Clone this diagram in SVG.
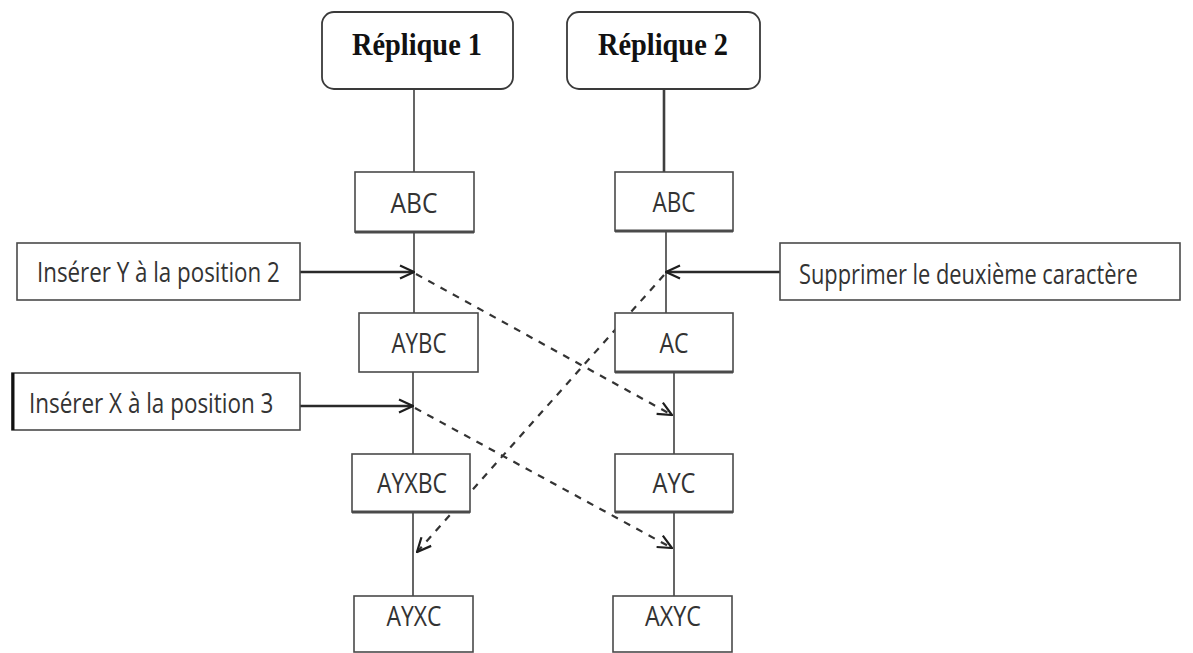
<svg xmlns="http://www.w3.org/2000/svg" width="1193" height="653" viewBox="0 0 1193 653">
  <style>
    .bg { fill: #ffffff; }
    .state rect { fill: #ffffff; stroke: #4a4a4a; stroke-width: 1.6; }
    .state .base { stroke: #4a4a4a; stroke-width: 3; }
    .state text { font-family: "Open Sans", "Liberation Sans", sans-serif; font-size: 27px; fill: #333333; text-anchor: middle; }
    .replica rect { fill: #ffffff; stroke: #3a3a3a; stroke-width: 1.8; }
    .replica text { font-family: "Liberation Serif", "DejaVu Serif", serif; font-weight: bold; font-size: 31px; fill: #111111; text-anchor: middle; }
    .op rect { fill: #ffffff; stroke: #4a4a4a; stroke-width: 1.6; }
    .op text { font-family: "Open Sans", "Liberation Sans", sans-serif; font-size: 27px; fill: #333333; }
    .link { stroke: #3f3f3f; stroke-width: 1.6; fill: none; }
    .apply { stroke: #2a2a2a; stroke-width: 2.4; fill: none; }
    .sync { stroke: #333333; stroke-width: 2.2; fill: none; stroke-dasharray: 7 7; }
  </style>
  <defs>
    <marker id="open-arrow" viewBox="0 0 16 16" refX="15" refY="8" markerWidth="16" markerHeight="16" markerUnits="userSpaceOnUse" orient="auto">
      <path d="M1,1.5 L15,8 L1,14.5" fill="none" stroke="#1e1e1e" stroke-width="2.2"/>
    </marker>
  </defs>

  <rect class="bg" x="0" y="0" width="1193" height="653"/>

  <!-- timelines and operation arrows -->
  <g id="connectors">
    <!-- replica 1 timeline -->
    <line class="link" x1="414" y1="89" x2="414" y2="172"/>
    <line class="link" x1="414" y1="232" x2="414" y2="313"/>
    <line class="link" x1="413" y1="372" x2="413" y2="454"/>
    <line class="link" x1="413" y1="512" x2="413" y2="596"/>
    <!-- replica 2 timeline -->
    <line class="link" x1="664" y1="89" x2="664" y2="172" style="stroke-width:2.6"/>
    <line class="link" x1="666" y1="232" x2="666" y2="313"/>
    <line class="link" x1="674" y1="372" x2="674" y2="454"/>
    <line class="link" x1="674" y1="512" x2="674" y2="596"/>
    <!-- local operations -->
    <line class="apply" x1="300" y1="272" x2="414" y2="272" marker-end="url(#open-arrow)"/>
    <line class="apply" x1="300" y1="406" x2="413" y2="406" marker-end="url(#open-arrow)"/>
    <line class="apply" x1="780" y1="272" x2="666" y2="272" marker-end="url(#open-arrow)"/>
    <!-- propagated operations -->
    <line class="sync" x1="416" y1="274" x2="672" y2="415" marker-end="url(#open-arrow)"/>
    <line class="sync" x1="415" y1="408" x2="672" y2="548" marker-end="url(#open-arrow)"/>
    <line class="sync" x1="664" y1="275" x2="417" y2="552" marker-end="url(#open-arrow)"/>
  </g>

  <!-- replica headers -->
  <g id="replique-1" class="replica">
    <rect x="322" y="12" width="191" height="77" rx="12" ry="12"/>
    <text x="417" y="55" textLength="130" lengthAdjust="spacingAndGlyphs">Réplique 1</text>
  </g>
  <g id="replique-2" class="replica">
    <rect x="567" y="12" width="193" height="77" rx="12" ry="12"/>
    <text x="663" y="55" textLength="130" lengthAdjust="spacingAndGlyphs">Réplique 2</text>
  </g>

  <!-- replica 1 states -->
  <g id="r1-abc" class="state">
    <rect x="355" y="172" width="119" height="60"/>
    <line class="base" x1="355" y1="232" x2="474" y2="232"/>
    <text x="414" y="213" textLength="47" lengthAdjust="spacingAndGlyphs">ABC</text>
  </g>
  <g id="r1-aybc" class="state">
    <rect x="359" y="313" width="119" height="59"/>
    <text x="419" y="353" textLength="55" lengthAdjust="spacingAndGlyphs">AYBC</text>
  </g>
  <g id="r1-ayxbc" class="state">
    <rect x="352" y="454" width="118" height="58"/>
    <line class="base" x1="352" y1="512" x2="470" y2="512"/>
    <text x="412" y="493" textLength="70" lengthAdjust="spacingAndGlyphs">AYXBC</text>
  </g>
  <g id="r1-ayxc" class="state">
    <rect x="354" y="596" width="119" height="56"/>
    <text x="414" y="626" textLength="55" lengthAdjust="spacingAndGlyphs">AYXC</text>
  </g>

  <!-- replica 2 states -->
  <g id="r2-abc" class="state">
    <rect x="615" y="172" width="118" height="59"/>
    <line class="base" x1="615" y1="231" x2="733" y2="231"/>
    <text x="674" y="212" textLength="43" lengthAdjust="spacingAndGlyphs">ABC</text>
  </g>
  <g id="r2-ac" class="state">
    <rect x="615" y="313" width="118" height="59"/>
    <line class="base" x1="615" y1="372" x2="733" y2="372"/>
    <text x="674" y="353" textLength="29" lengthAdjust="spacingAndGlyphs">AC</text>
  </g>
  <g id="r2-ayc" class="state">
    <rect x="615" y="454" width="118" height="58"/>
    <line class="base" x1="615" y1="512" x2="733" y2="512"/>
    <text x="674" y="493" textLength="43" lengthAdjust="spacingAndGlyphs">AYC</text>
  </g>
  <g id="r2-axyc" class="state">
    <rect x="613" y="596" width="119" height="56"/>
    <text x="673" y="626" textLength="56" lengthAdjust="spacingAndGlyphs">AXYC</text>
  </g>

  <!-- operations: labels narrowed horizontally to a condensed look -->
  <g id="op-insert-y" class="op">
    <rect x="17" y="243" width="283" height="57"/>
    <text transform="translate(37 282) scale(0.82 1)" x="0" y="0" textLength="296" lengthAdjust="spacingAndGlyphs">Insérer Y à la position 2</text>
  </g>
  <g id="op-insert-x" class="op">
    <rect x="12" y="373" width="288" height="57"/>
    <line x1="13" y1="373" x2="13" y2="430" stroke="#111111" stroke-width="3"/>
    <text transform="translate(29 413) scale(0.82 1)" x="0" y="0" textLength="298" lengthAdjust="spacingAndGlyphs">Insérer X à la position 3</text>
  </g>
  <g id="op-delete" class="op">
    <rect x="780" y="243" width="400" height="57"/>
    <text transform="translate(799 284) scale(0.82 1)" x="0" y="0" textLength="413" lengthAdjust="spacingAndGlyphs">Supprimer le deuxième caractère</text>
  </g>
</svg>
